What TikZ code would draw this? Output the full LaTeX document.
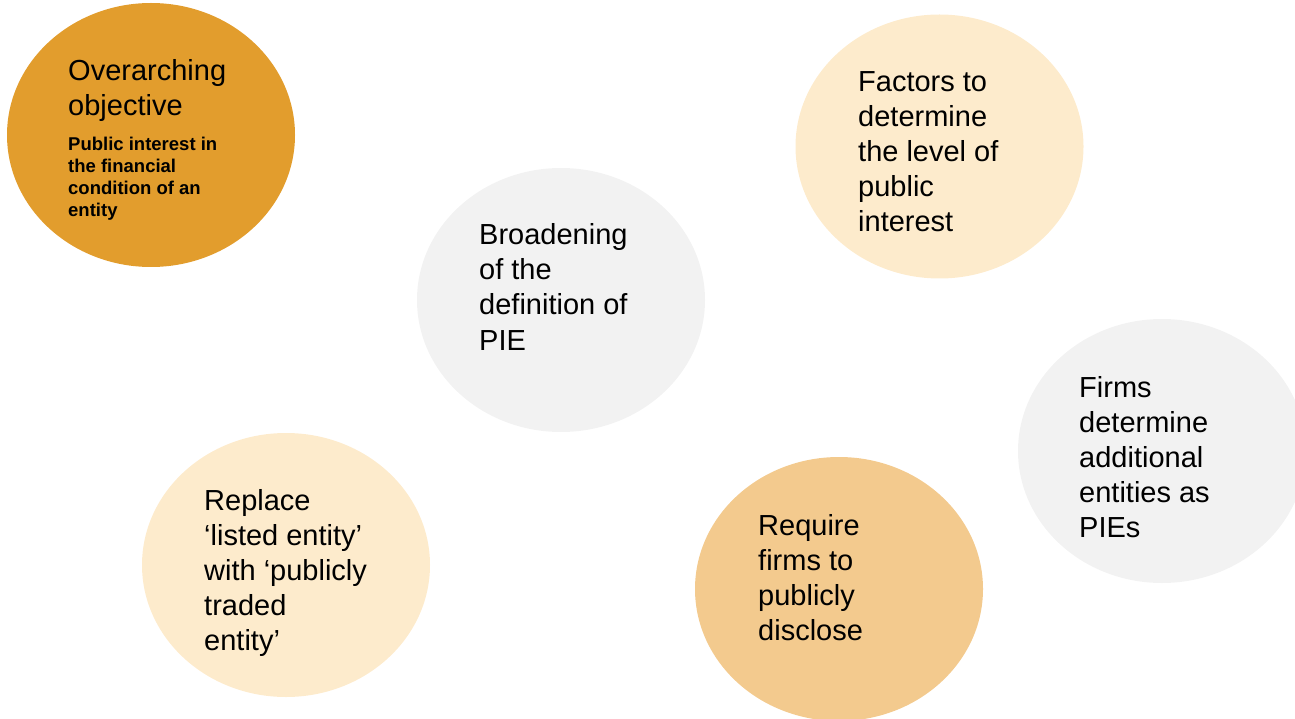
\documentclass[tikz,border=0pt]{standalone}
\usepackage{fontspec}
\setmainfont{Liberation Sans}
\usetikzlibrary{shapes.geometric, positioning}

\definecolor{darkgold}{HTML}{E29D2D}
\definecolor{palegold}{HTML}{FDEBCC}
\definecolor{softgray}{HTML}{F2F2F2}
\definecolor{lightgold}{HTML}{F3CA8E}

\tikzset{
    bubble/.style={ellipse, fill=#1, minimum width=288pt, minimum height=264pt, inner sep=0pt},
    caption/.style={anchor=base west, inner sep=0pt, font=\fontsize{29}{35}\selectfont},
    subcaption/.style={anchor=base west, inner sep=0pt, font=\bfseries\fontsize{18.5}{22}\selectfont},
}
\newcommand{\bubblelines}[1]{\begin{tabular}[t]{@{}l@{}}#1\end{tabular}}

\begin{document}
\begin{tikzpicture}[x=1pt, y=-1pt]
    \useasboundingbox (0, 0) rectangle (1295, 719);
    \clip (0, 0) rectangle (1295, 719);
    % bubbles
    \node[bubble=darkgold] (objective) at (151, 135) {};
    \node[bubble=palegold] (factors) at (939.5, 146.5) {};
    \node[bubble=softgray] (pie) at (561, 300) {};
    \node[bubble=softgray] (firms) at (1162, 451) {};
    \node[bubble=palegold] (replace) at (286, 565) {};
    \node[bubble=lightgold] (disclose) at (839, 589) {};
    % texts
    \node[caption] (objective-txt) at (68, 81) {\bubblelines{Overarching\\objective}};
    \node[subcaption] (objective-sub) at (68, 151) {\bubblelines{Public interest in\\the financial\\condition of an\\entity}};
    \node[caption] (factors-txt) at (858, 92) {\bubblelines{Factors to\\determine\\the level of\\public\\interest}};
    \node[caption] (pie-txt) at (479, 245) {\bubblelines{Broadening\\of the\\definition of\\PIE}};
    \node[caption] (firms-txt) at (1079, 397) {\bubblelines{Firms\\determine\\additional\\entities as\\PIEs}};
    \node[caption] (replace-txt) at (204, 510) {\bubblelines{Replace\\‘listed entity’\\with ‘publicly\\traded\\entity’}};
    \node[caption] (disclose-txt) at (758, 535) {\bubblelines{Require\\firms to\\publicly\\disclose}};
\end{tikzpicture}
\end{document}
